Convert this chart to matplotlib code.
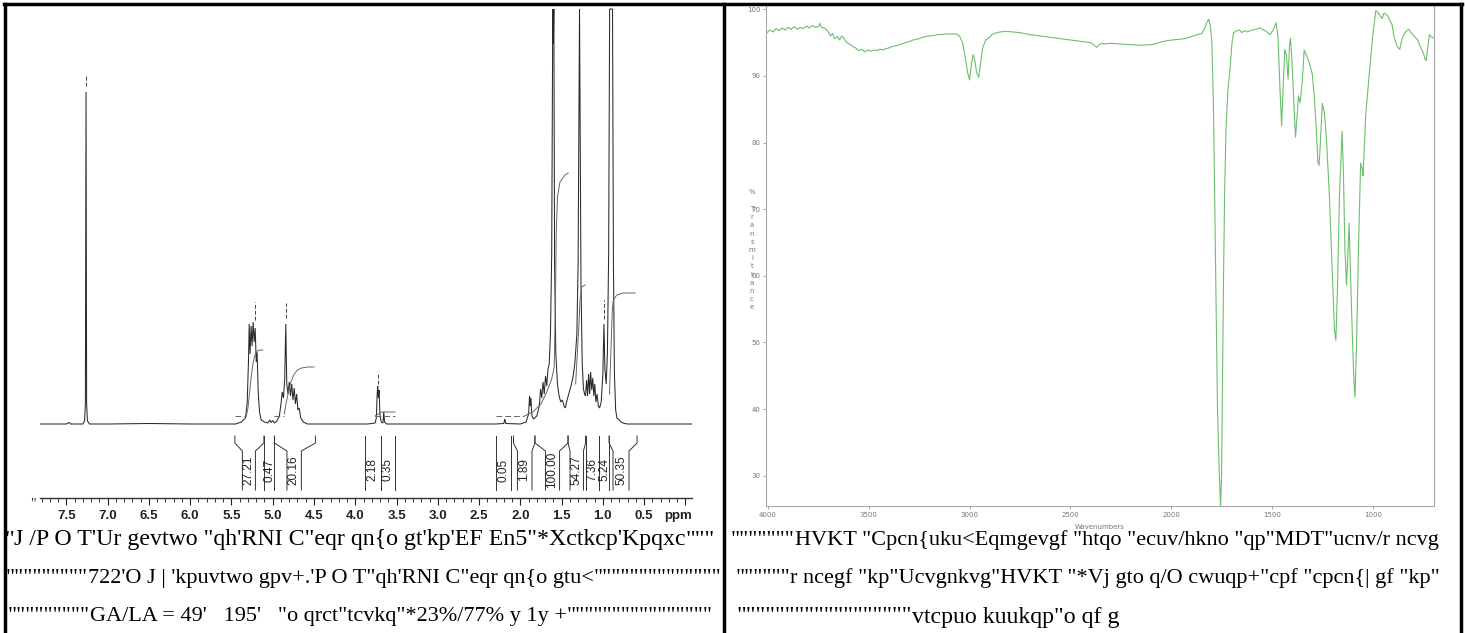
import matplotlib
matplotlib.use('Agg')
import matplotlib.pyplot as plt
from matplotlib.lines import Line2D
from matplotlib.ticker import FixedLocator, MultipleLocator

W, H = 1465, 633
fig = plt.figure(figsize=(W / 100, H / 100), dpi=100)
fig.patch.set_facecolor('white')


def fx(px):
    return px / W


def fy(py):
    return 1 - py / H


# ---------------- NMR data (ppm, intensity above baseline) ----------------
nmr_ppm = [7.82, 7.50, 7.47, 7.45, 7.30, 7.28, 7.27, 7.262, 7.255, 7.245, 7.22, 7.00, 6.50, 6.00,
           5.45, 5.38, 5.33, 5.31, 5.295, 5.285, 5.275, 5.262, 5.25, 5.238, 5.225, 5.213, 5.20,
           5.19, 5.175, 5.16, 5.14, 5.10, 5.06, 5.035, 5.02, 5.00, 4.98, 4.95, 4.92, 4.90, 4.885,
           4.87, 4.855, 4.842, 4.83, 4.815, 4.80, 4.785, 4.77, 4.755, 4.74, 4.725, 4.71, 4.695,
           4.68, 4.66, 4.63, 4.58, 3.85, 3.76, 3.745, 3.735, 3.728, 3.72, 3.712, 3.70, 3.685,
           3.665, 3.655, 3.645, 3.62, 2.30, 2.20, 2.188, 2.176, 2.00, 1.93, 1.90, 1.888, 1.88,
           1.872, 1.86, 1.84, 1.80, 1.77, 1.755, 1.74, 1.725, 1.71, 1.695, 1.68, 1.665, 1.65,
           1.635, 1.62, 1.607, 1.600, 1.594, 1.585, 1.57, 1.55, 1.53, 1.51, 1.49, 1.47, 1.455,
           1.44, 1.42, 1.40, 1.38, 1.36, 1.34, 1.315, 1.30, 1.29, 1.283, 1.275, 1.265, 1.25,
           1.235, 1.222, 1.21, 1.197, 1.185, 1.172, 1.16, 1.148, 1.135, 1.122, 1.11, 1.098,
           1.085, 1.07, 1.055, 1.04, 1.02, 1.00, 0.987, 0.975, 0.96, 0.945, 0.93, 0.918, 0.905,
           0.895, 0.883, 0.872, 0.86, 0.845, 0.83, 0.80, 0.78, 0.74, 0.70, -0.08]
nmr_int = [0, 0, 1.5, 0, 0, 3, 20, 332, 20, 3, 0, 0, 0.5, 0,
           0, 2, 6, 20, 60, 100, 70, 98, 78, 102, 82, 96, 62,
           72, 30, 12, 4, 2, 1, 4, 1.5, 3.5, 1, 3, 8, 20, 32,
           26, 45, 100, 40, 30, 42, 28, 40, 24, 36, 20, 30, 14,
           16, 6, 2, 0, 0, 1, 6, 30, 38, 26, 34, 8, 2,
           1, 12, 2, 0, 0, 0.5, 5, 0.5, 0, 2, 10, 28, 18,
           26, 8, 5, 8, 18, 35, 26, 42, 30, 48, 38, 55, 60,
           90, 170, 415, 380, 415, 160, 70, 40, 28, 22, 24, 18, 16,
           22, 28, 34, 40, 48, 60, 90, 160, 300, 415, 300, 140, 60,
           35, 30, 28, 44, 28, 50, 30, 52, 34, 46, 28, 40,
           22, 30, 18, 16, 22, 50, 100, 55, 40, 70, 170, 415, 415,
           415, 415, 160, 50, 14, 6, 4, 2, 0.5, 0, 0]

# integral traces
int_curves = [
    ([5.32, 5.30, 5.28, 5.26, 5.24, 5.22, 5.19, 5.15, 5.12],
     [8, 16, 32, 48, 60, 68, 73, 74, 74]),
    ([4.86, 4.84, 4.81, 4.78, 4.74, 4.70, 4.65, 4.58, 4.50],
     [10, 20, 32, 42, 50, 54, 56, 57, 57]),
    ([3.76, 3.72, 3.68, 3.60, 3.52],
     [8, 10, 12, 12, 12]),
    ([1.95, 1.85, 1.75, 1.68, 1.62, 1.59, 1.575, 1.565, 1.55, 1.52, 1.46, 1.42],
     [8, 12, 20, 32, 45, 57, 120, 191, 227, 242, 249, 251]),
    ([1.33, 1.29, 1.277, 1.256, 1.216],
     [40, 100, 124, 137, 139]),
    ([0.92, 0.90, 0.885, 0.873, 0.832, 0.752, 0.61],
     [30, 80, 115, 124, 129, 131, 131]),
]
int_dashes = [(5.46, 5.32, 8), (4.98, 4.86, 8), (3.76, 3.52, 8), (2.29, 1.95, 8)]

# peak markers (ppm, low, high)
peak_marks = [(7.262, 338, 348), (5.215, 104, 122), (4.842, 106, 121),
              (3.728, 40, 50), (0.987, 105, 124)]

# integration regions: outer-left, inner-left, inner-right, outer-right, label, label ppm
integrals = [
    (5.459, 5.368, 5.210, 5.107, '27.21', 5.289),
    (5.107, 5.107, 4.980, 4.980, '0.47', 5.041),
    (4.980, 4.828, 4.653, 4.483, '20.16', 4.744),
    (3.877, 3.877, 3.692, 3.692, '2.18', 3.792),
    (3.692, 3.692, 3.522, 3.522, '0.35', 3.610),
    (2.295, 2.295, 2.119, 2.119, '0.05', 2.210),
    (2.083, 2.035, 1.859, 1.823, '1.89', 1.950),
    (1.823, 1.695, 1.525, 1.422, '100.00', 1.616),
    (1.422, 1.398, 1.235, 1.210, '54.27', 1.325),
    (1.210, 1.210, 1.041, 1.041, '7.36', 1.132),
    (1.041, 1.041, 0.925, 0.925, '5.24', 0.986),
    (0.925, 0.877, 0.683, 0.586, '50.35', 0.780),
]
nmr_ticks = [7.5, 7.0, 6.5, 6.0, 5.5, 5.0, 4.5, 4.0, 3.5, 3.0, 2.5, 2.0, 1.5, 1.0, 0.5, 0.0]
nmr_tick_labels = ['7.5', '7.0', '6.5', '6.0', '5.5', '5.0', '4.5', '4.0', '3.5', '3.0',
                   '2.5', '2.0', '1.5', '1.0', '0.5', '']

# ---------------- FTIR data ----------------
ir_wn = [4005, 3990, 3975, 3960, 3945, 3930, 3915, 3900, 3885, 3870, 3855, 3840, 3825, 3810,
         3795, 3780, 3765, 3750, 3743, 3735, 3720, 3705, 3690, 3680, 3670, 3655, 3645, 3635,
         3625, 3610, 3595, 3580, 3565, 3550, 3535, 3520, 3505, 3490, 3475, 3460, 3445, 3430,
         3415, 3400, 3385, 3370, 3355, 3340, 3325, 3310, 3295, 3280, 3265, 3250, 3235, 3220,
         3205, 3190, 3175, 3160, 3140, 3120, 3100, 3080, 3066, 3050, 3035, 3020, 3010, 3000,
         2992, 2983, 2975, 2965, 2955, 2945, 2935, 2920, 2910, 2900, 2890, 2875, 2850, 2820,
         2785, 2750, 2700, 2650, 2600, 2550, 2500, 2450, 2400, 2385, 2370, 2360, 2345, 2330,
         2300, 2250, 2200, 2150, 2100, 2080, 2050, 2020, 1995, 1960, 1930, 1900, 1870, 1848,
         1835, 1825, 1814, 1805, 1798, 1790, 1783, 1778, 1770, 1762, 1755, 1750, 1745, 1740,
         1735, 1728, 1718, 1708, 1698, 1690, 1675, 1660, 1650, 1635, 1620, 1600, 1580, 1560,
         1540, 1525, 1510, 1495, 1480, 1470, 1460, 1452, 1445, 1436, 1428, 1420, 1413, 1408,
         1400, 1390, 1383, 1375, 1368, 1360, 1350, 1340, 1330, 1315, 1300, 1290, 1280, 1272,
         1266, 1258, 1250, 1240, 1230, 1215, 1200, 1190, 1183, 1175, 1165, 1152, 1145, 1138,
         1130, 1124, 1117, 1110, 1100, 1093, 1088, 1080, 1070, 1060, 1052, 1048, 1035, 1017,
         1000, 985, 975, 963, 953, 945, 938, 925, 910, 904, 895, 880, 866, 855, 843, 830, 822,
         810, 795, 777, 765, 750, 740, 735, 728, 719, 710, 700]
ir_t = [96.5, 96.9, 96.6, 97.1, 96.8, 97.2, 96.9, 97.3, 97.0, 97.4, 97.0, 97.3, 97.1, 97.5,
        97.2, 97.6, 97.3, 97.4, 97.9, 97.3, 97.2, 96.8, 96.0, 96.4, 95.6, 95.9, 95.4, 96.0,
        95.7, 95.0, 94.8, 94.4, 94.2, 93.8, 94.0, 93.6, 93.9, 93.7, 93.9, 93.8, 94.0, 93.9,
        94.1, 94.2, 94.4, 94.5, 94.6, 94.8, 94.9, 95.1, 95.2, 95.4, 95.5, 95.6, 95.8, 95.9,
        96.0, 96.0, 96.1, 96.2, 96.2, 96.3, 96.3, 96.3, 96.3, 96.0, 95.0, 92.5, 90.5, 89.4,
        91.5, 93.2, 92.5, 90.5, 89.8, 92.0, 94.2, 95.4, 95.6, 95.8, 96.2, 96.4, 96.6, 96.7,
        96.6, 96.5, 96.2, 96.0, 95.8, 95.6, 95.4, 95.2, 95.0, 94.7, 94.3, 94.6, 94.9, 94.8,
        94.9, 94.8, 94.7, 94.6, 94.7, 94.8, 95.1, 95.3, 95.4, 95.5, 95.6, 95.9, 96.2, 96.4,
        97.0, 97.9, 98.5, 97.5, 95.0, 85.4, 70.0, 57.8, 40.0, 31.0, 25.2, 30.0, 45.0, 60.0,
        72.0, 82.0, 88.0, 91.0, 95.0, 96.5, 96.8, 96.9, 96.5, 96.8, 96.6, 96.9, 97.0, 97.2,
        96.9, 96.6, 96.2, 96.8, 98.0, 96.0, 88.0, 82.5, 88.0, 94.0, 93.0, 89.5, 94.5, 95.7,
        92.0, 85.0, 80.8, 84.0, 87.0, 86.0, 89.0, 93.9, 93.2, 92.0, 90.3, 87.0, 82.0, 77.0,
        76.6, 81.0, 85.9, 84.5, 80.8, 72.0, 60.0, 52.0, 50.3, 58.0, 72.0, 81.7, 75.0, 64.0,
        58.6, 63.0, 67.9, 60.0, 50.0, 44.0, 41.8, 50.0, 65.0, 76.9, 76.0, 75.0, 84.0, 90.4,
        96.0, 99.8, 99.6, 99.0, 98.6, 99.4, 99.4, 99.0, 98.0, 97.7, 96.0, 94.5, 94.0, 95.5,
        96.4, 96.8, 97.0, 96.5, 96.0, 95.4, 94.5, 93.5, 92.5, 92.3, 94.0, 96.2, 95.9, 95.7]
ir_xticks = [4000, 3500, 3000, 2500, 2000, 1500, 1000]
ir_yticks = [30, 40, 50, 60, 70, 80, 90, 100]

# ---------------- caption texts ----------------
capL = [
    'J /P O T\'Ur gevtwo "qh\'RNI C"eqr qn{o gt\'kp\'EF En5"*Xctkcp\'Kpqxc',
    '722\'O J | \'kpuvtwo gpv+.\'P O T"qh\'RNI C"eqr qn{o gtu<',
    'GA/LA = 49\'   195\'   "o qrct"tcvkq"*23%/77% y 1y +',
]
capR = [
    'HVKT "Cpcn{uku<Eqmgevgf "htqo "ecuv/hkno "qp"MDT"ucnv/r ncvg',
    'r ncegf "kp"Ucvgnkvg"HVKT "*Vj gto q/O cwuqp+"cpf "cpcn{| gf "kp"',
    'vtcpuo kuukqp"o qf g',
]

# ================= NMR panel =================
axN = fig.add_axes([fx(40), fy(497.7), fx(692) - fx(40), fy(5) - fy(497.7)])
axN.set_xlim(7.82, -0.08)
axN.set_ylim(-73.7, 419)
axN.plot(nmr_ppm, nmr_int, color='#2a2a2a', lw=0.75, solid_joinstyle='miter')
for xs, ys in int_curves:
    axN.plot(xs, ys, color='#666666', lw=0.7)
for a, b, v in int_dashes:
    axN.plot([a, b], [v, v], color='#666666', lw=0.7, ls=(0, (6, 3)))
for p, lo, hi in peak_marks:
    axN.plot([p, p], [lo, hi], color='#444444', lw=0.7, ls=(0, (4, 2)))

top_o, bend_o, bend_i, bot = -12, -19, -27, -66
for lo_, li_, ri_, ro_, lab, lp in integrals:
    if lo_ == li_:
        axN.plot([lo_, lo_], [top_o, bot], color='#333333', lw=0.7)
    else:
        axN.plot([lo_, lo_, li_, li_], [top_o, bend_o, bend_i, bot], color='#333333', lw=0.7)
    if ro_ == ri_:
        axN.plot([ro_, ro_], [top_o, bot], color='#333333', lw=0.7)
    else:
        axN.plot([ro_, ro_, ri_, ri_], [top_o, bend_o, bend_i, bot], color='#333333', lw=0.7)
    axN.text(lp, -46, lab, rotation=90, ha='center', va='center', fontsize=8.5,
             family='Liberation Sans', color='#222222')

for s in ['top', 'left', 'right']:
    axN.spines[s].set_visible(False)
axN.spines['bottom'].set_color('#333333')
axN.spines['bottom'].set_linewidth(1.0)
axN.set_yticks([])
axN.xaxis.set_major_locator(FixedLocator(nmr_ticks))
axN.set_xticklabels(nmr_tick_labels)
axN.xaxis.set_minor_locator(MultipleLocator(0.1))
axN.tick_params(axis='x', which='major', length=5, width=0.8, direction='out', pad=4,
                labelsize=9.5, colors='#222222')
axN.tick_params(axis='x', which='minor', length=3, width=0.7, direction='out', colors='#333333')
for t in axN.get_xticklabels():
    t.set_fontweight('bold')
    t.set_family('Liberation Sans')
axN.set_facecolor('none')
fig.text(fx(678), fy(515.5), 'ppm', ha='center', va='center', fontsize=9.5, fontweight='bold',
         family='Liberation Sans', color='#222222')
fig.text(fx(33), fy(504), '"', ha='center', va='center', fontsize=10, color='#333333',
         family='Liberation Serif')

# ================= FTIR panel =================
axI = fig.add_axes([fx(766), fy(506), fx(1434) - fx(766), fy(4) - fy(506)])
axI.set_xlim(4010, 696)
axI.set_ylim(25.45, 100.8)
axI.plot(ir_wn, ir_t, color='#6cbf6c', lw=0.8)
for s in axI.spines.values():
    s.set_color('#a8a8a8')
    s.set_linewidth(0.8)
axI.set_xticks(ir_xticks)
axI.set_yticks(ir_yticks)
axI.tick_params(axis='both', length=2, width=0.6, colors='#9a9a9a', labelsize=5, pad=2,
                labelcolor='#777777')
fig.text(fx(1100), fy(527), 'Wavenumbers', ha='center', va='center', fontsize=5,
         color='#777777')
ylab_chars = list('%Transmittance')
ylab_y = [192] + [209 + 8.2 * i for i in range(13)]
for ch, yy in zip(ylab_chars, ylab_y):
    fig.text(fx(752), fy(yy), ch, ha='center', va='center', fontsize=5, color='#777777')

# ================= captions =================
renderer = fig.canvas.get_renderer()
rows_y = [540, 578, 617]
FONT = 'Liberation Serif'


def caption(body, x_start, x_end, cell0, cell1, yy, trailing):
    t = fig.text(fx(x_start), fy(yy), body, ha='left', va='center', fontsize=16.5,
                 family=FONT)
    w = t.get_window_extent(renderer).width
    fs = max(16.0, min(17.2, 16.5 * (x_end - x_start) / w))
    t.set_fontsize(fs)
    w = t.get_window_extent(renderer).width
    q = fig.text(0, 0, '""""""""""', fontsize=fs, family=FONT)
    qw = q.get_window_extent(renderer).width / 10
    q.remove()
    n_lead = int((x_start - cell0 - 1) // qw)
    if n_lead > 0:
        fig.text(fx(x_start), fy(yy), '"' * n_lead, ha='right', va='center', fontsize=fs,
                 family=FONT)
    if trailing:
        n_tr = int((cell1 - (x_start + w)) // qw)
        if n_tr > 0:
            fig.text(fx(x_start + w), fy(yy), '"' * n_tr, ha='left', va='center',
                     fontsize=fs, family=FONT)


startL = [(14, 706), (88, 570), (90, 556)]
startR = [(795, 1422), (790, 1422), (912, 1150)]
for body, (xs, xe), yy in zip(capL, startL, rows_y):
    caption(body, xs, xe, 0, 722, yy, True)
for body, (xs, xe), yy in zip(capR, startR, rows_y):
    caption(body, xs, xe, 726, 1459, yy, False)

# ================= borders =================
def hline(y, x0, x1, lw=2.5):
    fig.add_artist(Line2D([fx(x0), fx(x1)], [fy(y), fy(y)], color='black', lw=lw,
                          transform=fig.transFigure))


def vline(x, y0, y1, lw=2.5):
    fig.add_artist(Line2D([fx(x), fx(x)], [fy(y0), fy(y1)], color='black', lw=lw,
                          transform=fig.transFigure))


hline(3.5, 4, 1462)
vline(5, 3.5, 633)
vline(723.5, 3.5, 633)
vline(1461, 3.5, 633)

fig.savefig('out.png', dpi=100, facecolor='white')
